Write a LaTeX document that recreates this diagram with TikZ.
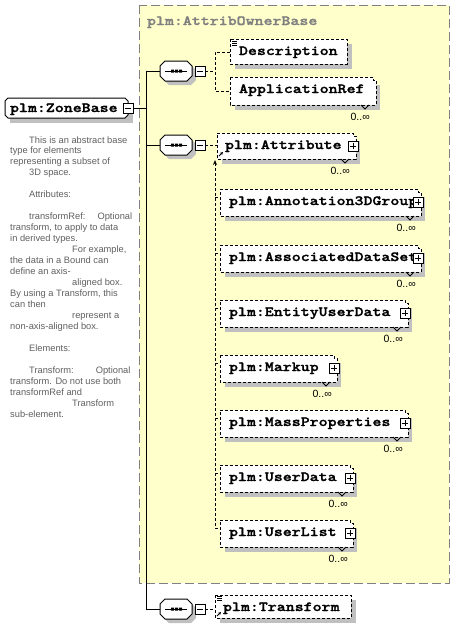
\documentclass[tikz,border=0pt]{standalone}
\usepackage{fontspec}
\setmainfont{Liberation Sans}
\newfontfamily\xmono{lmmonolt10-bold.otf}[FakeStretch=1.22,FakeBold=1.5]
\usetikzlibrary{arrows.meta}
\definecolor{grpfill}{HTML}{FFFFCC}
\definecolor{grpline}{HTML}{808080}
\definecolor{shadowc}{HTML}{C0C0C0}
\definecolor{anntext}{HTML}{606060}
\tikzset{
  lbl/.style={font=\xmono\fontsize{14}{14}\selectfont, anchor=base west, inner sep=0pt, outer sep=0pt},
  grplbl/.style={lbl, text=grpline},
  occ/.style={font=\fontsize{10.5}{10.5}\selectfont, anchor=base east, inner sep=0pt},
  ann/.style={font=\fontsize{9.3}{11}\selectfont, text=anntext, anchor=base west, inner sep=0pt},
  px/.style={line width=1pt},
  dashpx/.style={line width=1pt, dash pattern=on 3pt off 2pt},
  ebox/.style={dashpx, fill=white},
  shade/.style={fill=shadowc},
  dconn/.style={dashpx},
}
\newcommand\mkmulti[4]{%
  \fill[shade] (#1+5,#2+8) rectangle (#3+4,#4+5);
  \draw[ebox] (#1,#2) -- (#3-3,#2) -- (#3-3,#2+3) -- (#3,#2+3) -- (#3,#4) -- (#1,#4) -- cycle;
  \draw[line width=0.8pt] (#3-15,#4) -- (#3-11,#4+4) -- (#3-7,#4);
}
\newcommand\mksingle[4]{%
  \fill[shade] (#1+5,#2+5) rectangle (#3+5,#4+5);
  \draw[ebox] (#1,#2) rectangle (#3,#4);
}
\newcommand\mkplus[2]{%
  \draw[px, fill=white] (#1-8,#2+8) rectangle (#1+2,#2+18);
  \draw[px] (#1-6,#2+13) -- (#1,#2+13) (#1-3,#2+10) -- (#1-3,#2+16);
}
\newcommand\mkminus[2]{%
  \draw[px, fill=white] (#1,#2) rectangle (#1+10,#2+10);
  \draw[px] (#1+2,#2+5) -- (#1+8,#2+5);
}
\newcommand\mkcomp[2]{%
  \fill[shade] (#1+9,#2-6) -- (#1+31,#2-6) -- (#1+36,#2-1) -- (#1+36,#2+9) -- (#1+31,#2+14) -- (#1+9,#2+14) -- (#1+4,#2+9) -- (#1+4,#2-1) -- cycle;
  \draw[px, fill=white] (#1+5,#2-10) -- (#1+27,#2-10) -- (#1+32,#2-5) -- (#1+32,#2+5) -- (#1+27,#2+10) -- (#1+5,#2+10) -- (#1,#2+5) -- (#1,#2-5) -- cycle;
  \draw[px] (#1+5,#2) -- (#1+27,#2);
  \fill (#1+11,#2-1.5) rectangle +(3,3) (#1+15,#2-1.5) rectangle +(3,3) (#1+19,#2-1.5) rectangle +(3,3);
  \mkminus{#1+35}{#2-5}
}
\newcommand\mkdoc[2]{\draw[line width=0.7pt] (#1,#2) -- +(5,0) (#1,#2+2) -- +(5,0) (#1,#2+4) -- +(5,0);}
\newcommand\mkref[2]{\draw[line width=0.8pt,-{Stealth[length=3pt,width=3pt]}] (#1,#2) -- (#1+4,#2-4);}
\begin{document}
\begin{tikzpicture}[x=1pt,y=-1pt]
\useasboundingbox (0,0) rectangle (455,627);
\fill[white] (0,0) rectangle (455,627);
% group box
\draw[fill=grpfill, draw=grpline, line width=1pt, dash pattern=on 9pt off 4pt] (139,5) rectangle (449,583);
\node[grplbl] (grp) at (147,25) {plm:AttribOwnerBase};
% annotation
\foreach \xx/\ln/\tx [count=\k] in {29/0/{This is an abstract base}, 10/1/{type for elements}, 10/2/{representing a subset of}, 29/3/{3D space.}, 29/5/{Attributes:}, 29/7/{transformRef:\hspace{12pt}Optional}, 10/8/{transform, to apply to data}, 10/9/{in derived types.}, 72/10/{For example,}, 10/11/{the data in a Bound can}, 10/12/{define an axis-}, 72/13/{aligned box.}, 10/14/{By using a Transform, this}, 10/15/{can then}, 72/16/{represent a}, 10/17/{non-axis-aligned box.}, 29/19/{Elements:}, 29/21/{Transform:\hspace{22pt}Optional}, 10/22/{transform. Do not use both}, 10/23/{transformRef and}, 72/24/{Transform}, 10/25/{sub-element.}}
  \node[ann] (ann\k) at (\xx,143+10.96*\ln) {\tx};
% ZoneBase
\fill[shade] (10,103) rectangle (133,123);
\draw[px, fill=white] (8,98) -- (125,98) -- (128,101) -- (128,115) -- (125,118) -- (8,118) -- (5,115) -- (5,101) -- cycle;
\node[lbl] (zone) at (10,112) {plm:ZoneBase};
\mkminus{123}{103}
% spine
\coordinate (zb) at (133,108);
\coordinate (jn) at (146,108);
\coordinate (s1) at (146,71);
\coordinate (s2) at (146,145);
\coordinate (s3) at (146,609);
\coordinate (c1w) at (160,71);
\coordinate (c2w) at (160,145);
\coordinate (c3w) at (160,609);
\draw[px] (zb) -- (jn);
\draw[px] (s1) -- (s3);
\draw[px] (s1) -- (c1w) (s2) -- (c2w) (s3) -- (c3w);
\mkcomp{160}{71}
\mkcomp{160}{145}
\mkcomp{160}{609}
% sequence 1
\coordinate (c1e) at (205,71);
\coordinate (b1) at (215,71);
\coordinate (b1t) at (215,52);
\coordinate (b1b) at (215,91);
\coordinate (desc-w) at (230,52);
\coordinate (app-w) at (230,91);
\draw[dconn] (c1e) -- (b1);
\draw[dconn] (desc-w) -- (b1t) -- (b1b) -- (app-w);
\mksingle{230}{39}{347}{64}
\mkdoc{232}{41}
\node[lbl] (desc) at (239,55) {Description};
\mkmulti{230}{77}{376}{105}
\node[lbl] (appref) at (239,93) {ApplicationRef};
\node[occ] (appref-occ) at (370,120) {0..∞};
% sequence 2
\coordinate (c2e) at (205,145);
\coordinate (attr-w) at (217,145);
\draw[dconn] (c2e) -- (attr-w);
\mkmulti{217}{133}{356}{159}
\node[lbl] (attr) at (225,149) {plm:Attribute};
\mkplus{356}{133}
\mkref{219}{156}
\node[occ] (attr-occ) at (350,174) {0..∞};
\coordinate (subtop) at (215,160);
\coordinate (subbot) at (215,528);
\draw[dconn, {Stealth[length=5pt,width=4pt]}-] (subtop) -- (subbot);
\foreach \nm/\yy/\xr/\tx in {ann3d/189/421/Annotation3DGroup, assoc/245/421/AssociatedDataSet, ent/300/408/EntityUserData, mark/355/337/Markup, mass/410/408/MassProperties, ud/465/353/UserData, ul/520/353/UserList} {
  \draw[dconn] (215,\yy+8) -- (220,\yy+8);
  \mkmulti{220}{\yy}{\xr}{\yy+27}
  \node[lbl] (\nm) at (229,\yy+16) {plm:\tx};
  \mkplus{\xr}{\yy}
  \node[occ] (\nm-occ) at (\xr-5,\yy+42) {0..∞};
}
% sequence 3
\coordinate (c3e) at (205,609);
\coordinate (tr-w) at (215,609);
\draw[dconn] (c3e) -- (tr-w);
\mksingle{215}{595}{351}{618}
\mkdoc{217}{596}
\mkref{217}{616}
\node[lbl] (transform) at (223,611) {plm:Transform};
\end{tikzpicture}
\end{document}
